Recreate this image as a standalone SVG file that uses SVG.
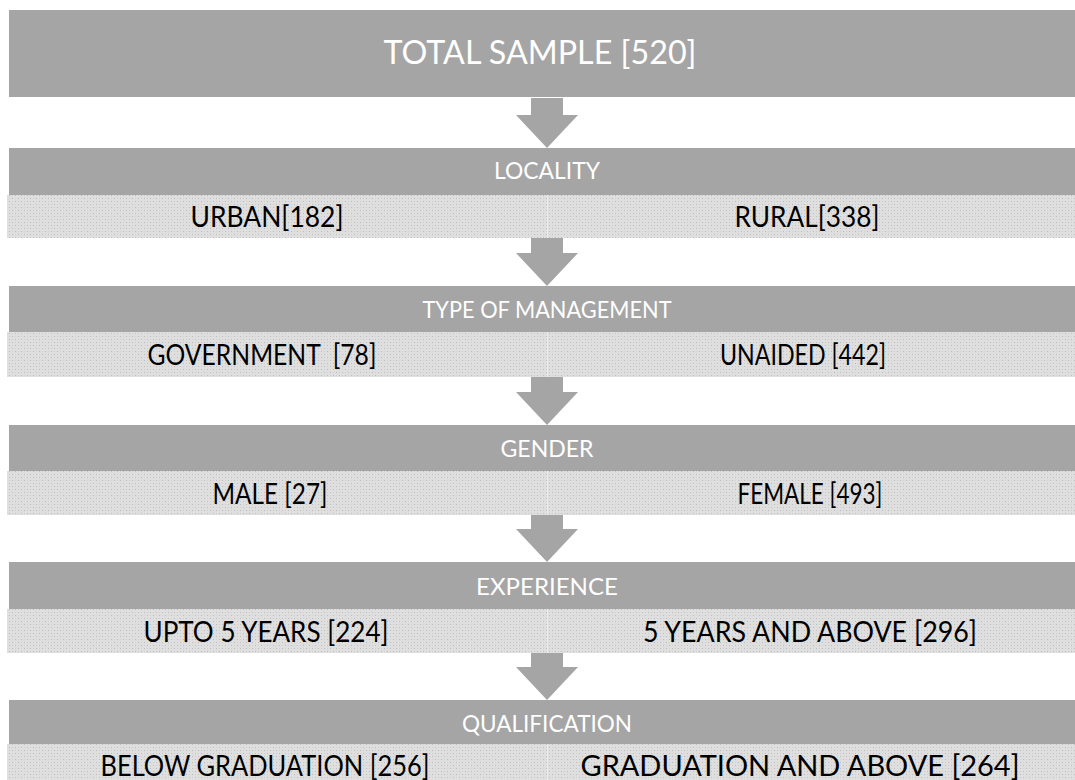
<svg xmlns="http://www.w3.org/2000/svg" width="1075" height="780" viewBox="0 0 1075 780">
  <defs>
    <!-- stippled fill for the category bands -->
    <pattern id="dots" width="6" height="6" patternUnits="userSpaceOnUse">
      <rect width="6" height="6" fill="#dfdfdf"/>
      <rect x="0" y="0" width="1" height="1" fill="#bcbcbc"/>
      <rect x="3" y="3" width="1" height="1" fill="#bcbcbc"/>
      <rect x="3" y="0" width="1" height="1" fill="#cfcfcf"/>
      <rect x="0" y="3" width="1" height="1" fill="#cfcfcf"/>
    </pattern>
    <!-- down arrow between levels, tip at (0,0) -->
    <path id="down" d="M-16,-50 H16 V-33 H31 L0,0 L-31,-33 H-16 Z"/>
  </defs>
  <style>
    .head { fill: #a5a5a5; }
    .band { fill: url(#dots); }
    .seam { fill: #ebebeb; }
    .arrow { fill: #a5a5a5; }
    text { font-family: Lato, "Open Sans", "Liberation Sans", sans-serif; text-anchor: middle; }
    .title { fill: #ffffff; font-size: 33px; }
    .htxt { fill: #ffffff; font-size: 23px; }
    .btxt { fill: #000000; font-size: 28px; }
  </style>

  <rect width="1075" height="780" fill="#ffffff"/>

  <!-- connectors -->
  <g id="connectors">
    <use href="#down" class="arrow" x="547" y="148"/>
    <use href="#down" class="arrow" x="547" y="286"/>
    <use href="#down" class="arrow" x="547" y="425"/>
    <use href="#down" class="arrow" x="547" y="562"/>
    <use href="#down" class="arrow" x="547" y="700"/>
  </g>

  <g id="total">
    <rect class="head" x="9" y="10" width="1066" height="87"/>
    <text class="title" x="540" y="64" textLength="313" lengthAdjust="spacingAndGlyphs">TOTAL SAMPLE [520]</text>
  </g>

  <g id="locality">
    <rect class="head" x="9" y="148" width="1066" height="47"/>
    <text class="htxt" x="547" y="179" textLength="106" lengthAdjust="spacingAndGlyphs">LOCALITY</text>
    <rect class="seam" x="7" y="195" width="1068" height="43"/>
    <rect class="band" x="7" y="195" width="540" height="43"/>
    <rect class="band" x="548" y="195" width="527" height="43"/>
    <text class="btxt" x="267" y="227" textLength="153" lengthAdjust="spacingAndGlyphs">URBAN[182]</text>
    <text class="btxt" x="807" y="227" textLength="145" lengthAdjust="spacingAndGlyphs">RURAL[338]</text>
  </g>

  <g id="management">
    <rect class="head" x="9" y="286" width="1066" height="46"/>
    <text class="htxt" x="547" y="318" textLength="249" lengthAdjust="spacingAndGlyphs">TYPE OF MANAGEMENT</text>
    <rect class="seam" x="7" y="332" width="1068" height="45"/>
    <rect class="band" x="7" y="332" width="540" height="45"/>
    <rect class="band" x="548" y="332" width="527" height="45"/>
    <text class="btxt" x="262" y="365" textLength="229" lengthAdjust="spacingAndGlyphs" xml:space="preserve">GOVERNMENT  [78]</text>
    <text class="btxt" x="803" y="365" textLength="166" lengthAdjust="spacingAndGlyphs">UNAIDED [442]</text>
  </g>

  <g id="gender">
    <rect class="head" x="9" y="425" width="1066" height="46"/>
    <text class="htxt" x="547" y="457" textLength="93" lengthAdjust="spacingAndGlyphs">GENDER</text>
    <rect class="seam" x="7" y="471" width="1068" height="44"/>
    <rect class="band" x="7" y="471" width="540" height="44"/>
    <rect class="band" x="548" y="471" width="527" height="44"/>
    <text class="btxt" x="270" y="504" textLength="115" lengthAdjust="spacingAndGlyphs">MALE [27]</text>
    <text class="btxt" x="810" y="504" textLength="145" lengthAdjust="spacingAndGlyphs">FEMALE [493]</text>
  </g>

  <g id="experience">
    <rect class="head" x="9" y="562" width="1066" height="47"/>
    <text class="htxt" x="547" y="595" textLength="142" lengthAdjust="spacingAndGlyphs">EXPERIENCE</text>
    <rect class="seam" x="7" y="609" width="1068" height="44"/>
    <rect class="band" x="7" y="609" width="540" height="44"/>
    <rect class="band" x="548" y="609" width="527" height="44"/>
    <text class="btxt" x="266" y="642" textLength="245" lengthAdjust="spacingAndGlyphs">UPTO 5 YEARS [224]</text>
    <text class="btxt" x="810" y="642" textLength="334" lengthAdjust="spacingAndGlyphs">5 YEARS AND ABOVE [296]</text>
  </g>

  <g id="qualification">
    <rect class="head" x="9" y="700" width="1066" height="44"/>
    <text class="htxt" x="547" y="732" textLength="170" lengthAdjust="spacingAndGlyphs">QUALIFICATION</text>
    <rect class="seam" x="7" y="744" width="1068" height="40"/>
    <rect class="band" x="7" y="744" width="540" height="40"/>
    <rect class="band" x="548" y="744" width="527" height="40"/>
    <text class="btxt" x="265" y="776" textLength="329" lengthAdjust="spacingAndGlyphs">BELOW GRADUATION [256]</text>
    <text class="btxt" x="800" y="776" textLength="439" lengthAdjust="spacingAndGlyphs">GRADUATION AND ABOVE [264]</text>
  </g>
</svg>
